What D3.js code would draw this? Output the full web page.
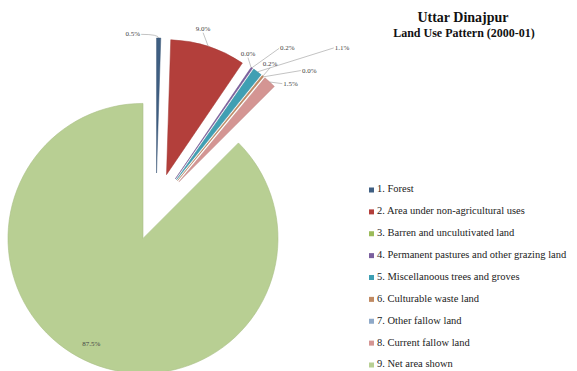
<!DOCTYPE html>
<html><head><meta charset="utf-8">
<script src="https://cdn.jsdelivr.net/npm/d3@7"></script>
<style>body{margin:0;background:#fff;}svg{display:block;}</style>
</head><body>
<svg id="c" width="577" height="371"></svg>
<script>
// ---- data ----
const categories = [
  "1. Forest",
  "2. Area under non-agricultural uses",
  "3. Barren and unculutivated land",
  "4. Permanent pastures and other grazing land",
  "5. Miscellanoous trees and groves",
  "6. Culturable waste land",
  "7. Other fallow land",
  "8. Current fallow land",
  "9. Net area shown"
];
const values = [0.5, 9.0, 0.0, 0.2, 1.1, 0.2, 0.0, 1.5, 87.5];
const valueLabels = ["0.5%", "9.0%", "0.0%", "0.2%", "1.1%", "0.2%", "0.0%", "1.5%", "87.5%"];
const titleText = "Uttar Dinajpur";
const subtitleText = "Land Use Pattern (2000-01)";

// ---- style / layout (not data) ----
const colors = ["#3f5f82", "#b33f3b", "#9bbb59", "#7a5f9e", "#3f9fb3", "#c08a62", "#8fa9c8", "#d49593", "#b8cf93"];
const cx = 156, cy = 207, R = 135, explode = 34;
// label placement: angle (deg, clockwise from 12 o'clock) and distance from pie centre
const labelAngle = [-5.3, 14.8, 31, 38.1, 48.4, 38.6, 47, 46, 206];
const labelDist  = [173, 184, 178.5, 201, 239, 183, 199.5, 177, 0];
const labelAnchor = ["end", "middle", "middle", "start", "start", "middle", "start", "start", "middle"];

const svg = d3.select("#c");
const pie = d3.pie().sort(null).value(d => d)(values);
const arc = d3.arc().innerRadius(0).outerRadius(R);
const rad = a => a * Math.PI / 180;
const pol = (a, r) => [Math.sin(a) * r, -Math.cos(a) * r];

const g = svg.append("g").attr("transform", `translate(${cx},${cy})`);
pie.forEach((p, i) => {
  const mid = (p.startAngle + p.endAngle) / 2;
  const off = pol(mid, explode);
  p.off = off; p.mid = mid;
  g.append("path")
    .attr("d", arc(p))
    .attr("transform", `translate(${off[0]},${off[1]})`)
    .attr("fill", colors[i])
    .attr("stroke", i === 8 ? "#a9bf86" : (p.endAngle - p.startAngle > 0.001 ? d3.color(colors[i]).darker(0.3) : "none"))
    .attr("stroke-width", i === 8 ? 0.6 : 0.5);
});

// labels + leader lines
pie.forEach((p, i) => {
  if (i === 8) {
    const ap = pol(rad(labelAngle[i]), R * 0.875);
    g.append("text").attr("x", p.off[0] + ap[0]).attr("y", p.off[1] + ap[1])
      .attr("text-anchor", "middle").attr("dominant-baseline", "middle")
      .attr("font-family", "Liberation Serif").attr("font-size", 7).attr("fill", "#444")
      .text(valueLabels[i]);
    return;
  }
  const lp = pol(rad(labelAngle[i]), labelDist[i]);
  const edge = pol(p.mid, R);
  const ex = p.off[0] + edge[0], ey = p.off[1] + edge[1];
  const t = g.append("text").attr("x", lp[0]).attr("y", lp[1])
    .attr("text-anchor", labelAnchor[i]).attr("dominant-baseline", "middle")
    .attr("font-family", "Liberation Serif").attr("font-size", 7).attr("fill", "#444")
    .text(valueLabels[i]);
  const bb = t.node().getBBox();
  let sx, sy;
  if (labelAnchor[i] === "end") { sx = bb.x + bb.width + 1; sy = bb.y + bb.height / 2; }
  else if (labelAnchor[i] === "start") { sx = bb.x - 1; sy = bb.y + bb.height / 2; }
  else { sx = bb.x + bb.width / 2; sy = bb.y + bb.height; }
  let d;
  if (i === 0) d = `M${sx},${sy}Q${ex},${sy} ${ex},${ey}`;
  else d = `M${sx},${sy}L${ex},${ey}`;
  g.append("path").attr("d", d).attr("fill", "none").attr("stroke", "#9a9a9a").attr("stroke-width", 0.6);
});

// title
svg.append("text").attr("x", 463).attr("y", 22).attr("text-anchor", "middle")
  .attr("font-family", "Liberation Serif").attr("font-weight", "bold").attr("font-size", 14).attr("fill", "#111")
  .text(titleText);
svg.append("text").attr("x", 464).attr("y", 37).attr("text-anchor", "middle")
  .attr("font-family", "Liberation Serif").attr("font-weight", "bold").attr("font-size", 12).attr("fill", "#111")
  .text(subtitleText);

// legend
const ly = d3.scalePoint().domain(categories).range([190, 365]);
const leg = svg.append("g");
categories.forEach((c, i) => {
  leg.append("rect").attr("x", 369).attr("y", ly(c) - 2.5).attr("width", 5).attr("height", 5).attr("fill", colors[i]);
  leg.append("text").attr("x", 377).attr("y", ly(c)).attr("dominant-baseline", "middle")
    .attr("font-family", "Liberation Serif").attr("font-size", 10.5).attr("fill", "#222").text(c);
});
</script>
</body></html>
